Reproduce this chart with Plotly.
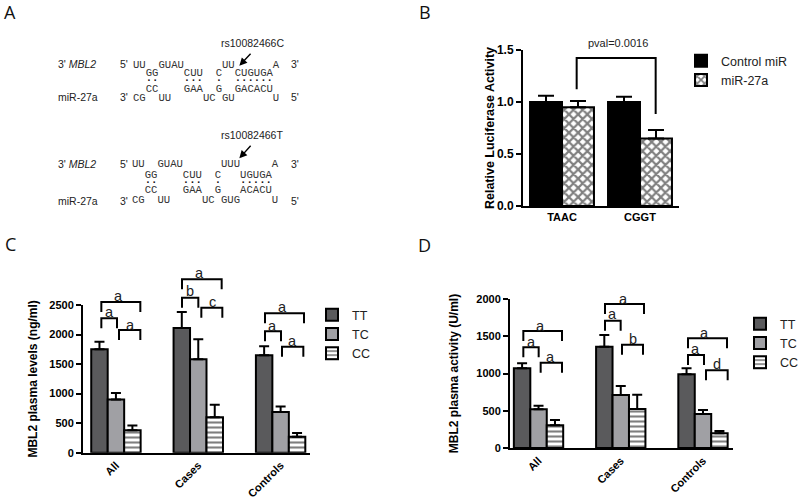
import plotly.graph_objects as go

W, H = 800, 500
def px(x): return x / W
def py(y): return 1 - y / H

# ---- data
groups_b = ["TAAC", "CGGT"]
control_mir = [1.0, 1.0]
control_mir_err = [0.06, 0.05]
mir27a = [0.95, 0.65]
mir27a_err = [0.06, 0.08]

groups_cd = ["All", "Cases", "Controls"]
c_tt = [1750, 2110, 1650]
c_tt_err = [130, 270, 150]
c_tc = [900, 1580, 690]
c_tc_err = [110, 340, 90]
c_cc = [380, 600, 270]
c_cc_err = [80, 210, 65]

d_tt = [1070, 1360, 990]
d_tt_err = [66, 157, 80]
d_tc = [519, 711, 456]
d_tc_err = [49, 121, 54]
d_cc = [304, 523, 197]
d_cc_err = [72, 193, 31]

FONT = "Liberation Sans"
fig = go.Figure()

def bar(name, x, y, err, color, ax, legend, pattern=None, capw=5, offset=None, width=None):
    fig.add_trace(go.Bar(
        name=name, x=x, y=y, xaxis="x" + ax, yaxis="y" + ax, legend=legend,
        offset=offset, width=width,
        marker=dict(color=color, line=dict(color="black", width=2), pattern=pattern),
        error_y=dict(type="data", symmetric=False, array=err, arrayminus=[0] * len(err),
                     color="black", thickness=2, width=capw),
    ))

check = dict(shape="x", fgcolor="black", bgcolor="white", size=6.5, solidity=0.55)
stripe = dict(shape="-", fgcolor="black", bgcolor="white", size=5, solidity=0.42)

bar("Control miR", groups_b, control_mir, control_mir_err, "black", "", "legend", capw=8)
bar("miR-27a", groups_b, mir27a, mir27a_err, "white", "", "legend", pattern=check, capw=8)

BW = 0.2
bar("TT", groups_cd, c_tt, c_tt_err, "#5a5a5c", "2", "legend2", offset=-0.3, width=BW)
bar("TC", groups_cd, c_tc, c_tc_err, "#a0a0a4", "2", "legend2", offset=-0.1, width=BW)
bar("CC", groups_cd, c_cc, c_cc_err, "white", "2", "legend2", pattern=stripe, offset=0.1, width=BW)

bar("TT", groups_cd, d_tt, d_tt_err, "#5a5a5c", "3", "legend3", offset=-0.3, width=BW)
bar("TC", groups_cd, d_tc, d_tc_err, "#a0a0a4", "3", "legend3", offset=-0.1, width=BW)
bar("CC", groups_cd, d_cc, d_cc_err, "white", "3", "legend3", pattern=stripe, offset=0.1, width=BW)

shapes, ann = [], []

def text(x, y, s, size=11, anchor="center", family=FONT, color="#222"):
    ann.append(dict(x=px(x), y=py(y), xref="paper", yref="paper", text=s, showarrow=False,
                    xanchor=anchor, yanchor="middle",
                    font=dict(size=size, family=family, color=color)))

def bracket(x0, x1, top, y0, y1=None):
    y1 = y0 if y1 is None else y1
    shapes.append(dict(type="path", xref="paper", yref="paper",
                       path=f"M{px(x0)},{py(y0)} L{px(x0)},{py(top)} L{px(x1)},{py(top)} L{px(x1)},{py(y1)}",
                       line=dict(color="black", width=2)))

def zbracket(ox, oy, x0, x1, top, bottom, label, lx, ly):
    bracket(ox + x0 / 3, ox + x1 / 3, oy + top / 3, oy + bottom / 3)
    text(ox + lx / 3, oy + ly / 3, label, size=14.5)

# panel letters
for lab, x, y in [("A", 10, 12), ("B", 425, 12), ("C", 10, 244), ("D", 424, 245)]:
    text(x, y, lab, size=18, family="Open Sans", color="#111")

# panel B bracket
bracket(420 + 470 / 3, 420 + 707 / 3, 174 / 3, 268 / 3, 342 / 3)
text(618, 43, "pval=0.0016", size=11)

# panel C brackets
for b in [(304, 421, 216, 246, "a", 356, 198), (304, 351, 265, 295, "a", 328, 247),
          (357, 421, 300, 330, "a", 390, 284), (546, 665, 148, 178, "a", 598, 128),
          (546, 595, 203, 233, "b", 570, 184), (604, 667, 233, 263, "c", 636, 215),
          (795, 912, 250, 280, "a", 847, 231), (795, 843, 304, 334, "a", 818, 287),
          (846, 910, 350, 380, "a", 878, 333)]:
    zbracket(0, 230, *b)

# panel D brackets
for b in [(340, 456, 303, 333, "a", 391, 287), (340, 386, 352, 382, "a", 365, 335),
          (392, 456, 398, 428, "a", 420, 380), (585, 702, 222, 252, "a", 639, 207),
          (585, 632, 272, 302, "a", 607, 253), (636, 699, 344, 374, "b", 669, 326),
          (834, 951, 325, 355, "a", 884, 310), (834, 882, 375, 405, "a", 857, 357),
          (888, 953, 421, 451, "d", 921, 402)]:
    zbracket(410, 230, *b)

# panel A
NB = "\u00a0"
MONO = "Liberation Mono"
def rows(x0, lines):
    for y, cells in lines:
        s = [NB] * 24
        for col, t in cells:
            for i, ch in enumerate(t):
                s[col + i] = ch
        text(x0, y, "".join(s), size=10.6, anchor="left", family=MONO, color="#333")

rows(393 / 3, [
    (195 / 3, [(0, "UU"), (4, "GUAU"), (14, "UU"), (22, "A")]),
    (220 / 3, [(2, "GG"), (8, "CUU"), (13, "C"), (16, "CUGUGA")]),
    (266 / 3, [(2, "CC"), (8, "GAA"), (13, "G"), (16, "GACACU")]),
    (295 / 3, [(0, "CG"), (4, "UU"), (11, "UC"), (14, "GU"), (22, "U")]),
])
rows(391 / 3, [
    (493 / 3, [(0, "UU"), (4, "GUAU"), (14, "UUU"), (22, "A")]),
    (525 / 3, [(2, "GG"), (8, "CUU"), (13, "C"), (17, "UGUGA")]),
    (571 / 3, [(2, "CC"), (8, "GAA"), (13, "G"), (17, "ACACU")]),
    (600 / 3, [(0, "CG"), (4, "UU"), (11, "UC"), (14, "GUG"), (22, "U")]),
])
for y, x0, cols in [(241 / 3, 393 / 3, [2, 3, 8, 9, 10, 13, 16, 17, 18, 19, 20, 21]),
                    (546 / 3, 391 / 3, [2, 3, 8, 9, 10, 13, 17, 18, 19, 20, 21])]:
    s = [NB] * 24
    for c in cols:
        s[c] = "\u00b7"
    text(x0, y, "<b>" + "".join(s) + "</b>", size=10.6, anchor="left", family=MONO, color="#111")

for y1, y2, y3, snp in [(192, 292, 130, "rs10082466C"), (492, 602, 405, "rs10082466T")]:
    text(168 / 3, y1 / 3, "3' <i>MBL2</i>", size=10.5, anchor="left")
    text(168 / 3, y2 / 3, "miR-27a", size=10.5, anchor="left")
    text(355 / 3, y1 / 3, "5'", size=10.5, anchor="left")
    text(355 / 3, y2 / 3, "3'", size=10.5, anchor="left")
    text(868 / 3, y1 / 3, "3'", size=10.5, anchor="left")
    text(868 / 3, y2 / 3, "5'", size=10.5, anchor="left")
    text(757 / 3, y3 / 3, snp, size=10.5)

for ys, ye in [(157, 197), (433, 475)]:
    ann.append(dict(x=px(718 / 3), y=py(ye / 3), ax=38 / 3, ay=-(ye - ys) / 3,
                    xref="paper", yref="paper", axref="pixel", ayref="pixel", text="",
                    showarrow=True, arrowhead=2, arrowsize=1.1, arrowwidth=1.4, arrowcolor="black"))

def xax(x0, x1, rng, yanchor, angle=0, size=11):
    return dict(domain=[px(x0), px(x1)], range=rng, type="category", showline=True, linecolor="black",
                linewidth=2, ticks="", tickangle=angle, showgrid=False, zeroline=False, anchor=yanchor,
                tickprefix="<b>", ticksuffix="</b>",
                tickfont=dict(family=FONT, size=size, color="black"), fixedrange=True)

def yax(top, bottom, rng, dtick, title, standoff, xanchor, fmt="", size=11, tsize=12):
    return dict(domain=[py(bottom), py(top)], range=rng, dtick=dtick, showline=True, linecolor="black",
                linewidth=2, ticks="outside", ticklen=5, tickwidth=2, tickcolor="black",
                showgrid=False, zeroline=False, anchor=xanchor, tickformat=fmt,
                tickprefix="<b>", ticksuffix="</b>",
                tickfont=dict(family=FONT, size=size, color="black"),
                title=dict(text=title, standoff=standoff, font=dict(family=FONT, size=tsize, color="black")))

def leg(x, y):
    return dict(x=px(x), y=py(y), xanchor="left", yanchor="top", bgcolor="rgba(0,0,0,0)",
                font=dict(family=FONT, size=12.5, color="#222"), traceorder="normal", itemclick=False)

fig.update_layout(
    width=W, height=H, margin=dict(l=0, r=0, t=0, b=0, pad=0, autoexpand=False),
    paper_bgcolor="white", plot_bgcolor="white",
    barmode="group", bargap=0.18, bargroupgap=0, autosize=False,
    xaxis=xax(523, 679, [-0.5, 1.5], "y"),
    yaxis=yax(50, 206, [0, 1.5], 0.5, "<b>Relative Luciferase Activity</b>", 0, "x", ".1f", 12, 12.5),
    xaxis2=xax(83, 310, [-0.40, 2.357], "y2", -45),
    yaxis2=yax(305, 452.7, [0, 2500], 500, "<b>MBL2 plasma levels (ng/ml)</b>", 9, "x2"),
    xaxis3=xax(510, 733, [-0.347, 2.365], "y3", -45),
    yaxis3=yax(299, 448, [0, 2000], 500, "<b>MBL2 plasma activity (U/ml)</b>", 15, "x3"),
    legend=leg(681, 46), legend2=leg(312, 300), legend3=leg(740, 309),
    shapes=shapes, annotations=ann, showlegend=True,
)
fig.write_html("out.html", config=dict(displayModeBar=False),
               post_script="document.body.style.margin='0';")
